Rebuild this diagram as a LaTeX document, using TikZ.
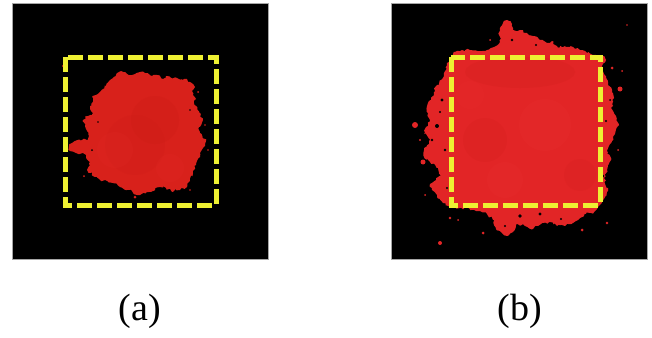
\documentclass[tikz,border=0pt]{standalone}
\usepackage{fontspec}
\setmainfont{Liberation Serif}
\usetikzlibrary{decorations.pathmorphing}
\definecolor{stainA}{RGB}{216,33,27}
\definecolor{stainB}{RGB}{226,37,38}
\definecolor{stainLight}{RGB}{242,58,58}
\definecolor{stainDark}{RGB}{196,24,20}
\definecolor{roiyellow}{RGB}{238,240,50}
\begin{document}
\begin{tikzpicture}[x=1pt,y=-1pt,
  panel/.style={fill=black,draw=gray!70,line width=0.6pt},
  roi/.style={draw=roiyellow,line width=5pt,dash pattern=on 15pt off 5pt},
  rough/.style={decorate,decoration={random steps,segment length=2.2pt,amplitude=1.4pt}},
  caption/.style={font=\fontsize{38}{40}\selectfont,anchor=base,inner sep=0pt}]
\pgfmathsetseed{11}
\useasboundingbox (0,0) rectangle (652,337);

% outlines of the two stains
\def\blobA{(116.7,73.3) (121,71) (125,72) (130,75) (135,74) (140,72) (145,73) (152,76) (157,75) (163,79) (166,76) (170,77) (177,78) (183,80) (187,79) (190,82) (195,87) (192,91) (193,95) (196,99) (194,103) (199,112) (203,120) (199,127) (200,133) (206,141) (203,148) (200,157) (197,161) (196,165) (193,173) (190,181) (187,187) (180,190) (176,189) (173,192) (166,188) (160,187) (153,191) (147,192) (140,195) (137,195) (132,191) (127,190) (120,187) (113,183) (105,180) (101,181) (97,177) (90,173) (87,170) (90,162) (86,157) (83,153) (76,153) (70,151) (69,146) (72,143) (80,140) (88,139) (87,131) (85,126) (83,120) (88,116) (93,113) (90,109) (92,105) (92,97) (96,95) (100,92) (106,86) (110,80)}
\def\blobB{(503,23) (507,20) (512,24) (513,30) (520,30) (527,33) (533,36) (540,40) (547,43) (552,41) (557,47) (565,46) (573,47) (580,50) (587,53) (596,55) (603,56) (606,60) (602,66) (604,74) (608,82) (612,90) (614,98) (611,108) (616,116) (619,125) (615,134) (610,144) (608,152) (611,160) (607,170) (604,178) (608,188) (605,197) (600,205) (594,212) (586,214) (580,218) (573,223) (565,226) (557,226) (549,222) (541,224) (533,229) (525,226) (517,224) (513,232) (508,236) (502,233) (496,229) (494,220) (487,214) (480,211) (470,209) (460,208) (450,207) (443,203) (437,197) (432,190) (430,184) (436,180) (441,176) (438,168) (430,162) (424,157) (424,150) (429,144) (430,139) (424,134) (426,127) (430,120) (428,113) (427,106) (431,99) (434,92) (437,85) (441,80) (444,73) (447,65) (451,57) (455,52) (462,50) (470,50) (480,51) (487,50) (494,47) (500,42) (499,35) (500,28)}

% ---------------- panel (a) ----------------
\path[panel] (12,3) rectangle (268,259);
\fill[stainA,rough] plot coordinates {\blobA} -- cycle;
\begin{scope}
  \clip plot coordinates {\blobA} -- cycle;
  \fill[stainDark,opacity=0.18] (155,120) circle (24);
  \fill[stainDark,opacity=0.12] (135,145) circle (30);
  \fill[stainLight,opacity=0.08] (115,150) circle (18);
  \fill[stainLight,opacity=0.08] (170,168) circle (14);
\end{scope}
% small spatter round the stain
\fill[stainA] (63,66) circle (1.2) (135,197) circle (1.5) (198,92) circle (1)
  (205,125) circle (0.9) (84,176) circle (1) (190,190) circle (0.8) (208,150) circle (0.8);
\fill[black] (92,150) circle (1) (98,122) circle (0.8) (190,110) circle (0.9);
\path[roi] (65,57) rectangle (216,205);
\node[caption] (capA) at (139.7,320) {(a)};

% ---------------- panel (b) ----------------
\path[panel] (391,3) rectangle (647,259);
\fill[stainB,rough] plot coordinates {\blobB} -- cycle;
\begin{scope}
  \clip (451,57) rectangle (600,205);
  \fill[stainDark,opacity=0.14] (520,72) ellipse (55 and 16);
  \fill[stainDark,opacity=0.12] (485,140) circle (22);
  \fill[stainLight,opacity=0.12] (545,125) circle (26);
  \fill[stainLight,opacity=0.10] (505,180) circle (18);
  \fill[stainDark,opacity=0.10] (580,175) circle (16);
  \fill[stainLight,opacity=0.08] (470,95) circle (14);
\end{scope}
% gaps in the ragged rim
\fill[black] (442,100) circle (1.6) (437,126) circle (2) (445,150) circle (1.4)
  (433,170) circle (1.4) (520,216) circle (1.8) (540,214) circle (1.6)
  (561,219) circle (1.2) (606,121) circle (1.2) (603,176) circle (1.4)
  (512,40) circle (1.3) (536,45) circle (1.1) (447,188) circle (1.2)
  (440,112) circle (1.2) (432,140) circle (1.3) (610,100) circle (1) (505,226) circle (1.2);
% loose droplets
\fill[stainB] (415,125) circle (3) (423,162) circle (2.5) (433,185) circle (2)
  (440,243) circle (2) (620,89) circle (2.5) (622,71) circle (1) (612,68) circle (1.5)
  (627,25) circle (0.9) (450,218) circle (1.4) (458,220) circle (1)
  (483,233) circle (1.5) (582,230) circle (1.5) (607,223) circle (1.4)
  (420,140) circle (1.2) (425,195) circle (1) (618,150) circle (1) (490,40) circle (1);
\path[roi] (451,57) rectangle (600,205);
\node[caption] (capB) at (519.7,320) {(b)};
\end{tikzpicture}
\end{document}
